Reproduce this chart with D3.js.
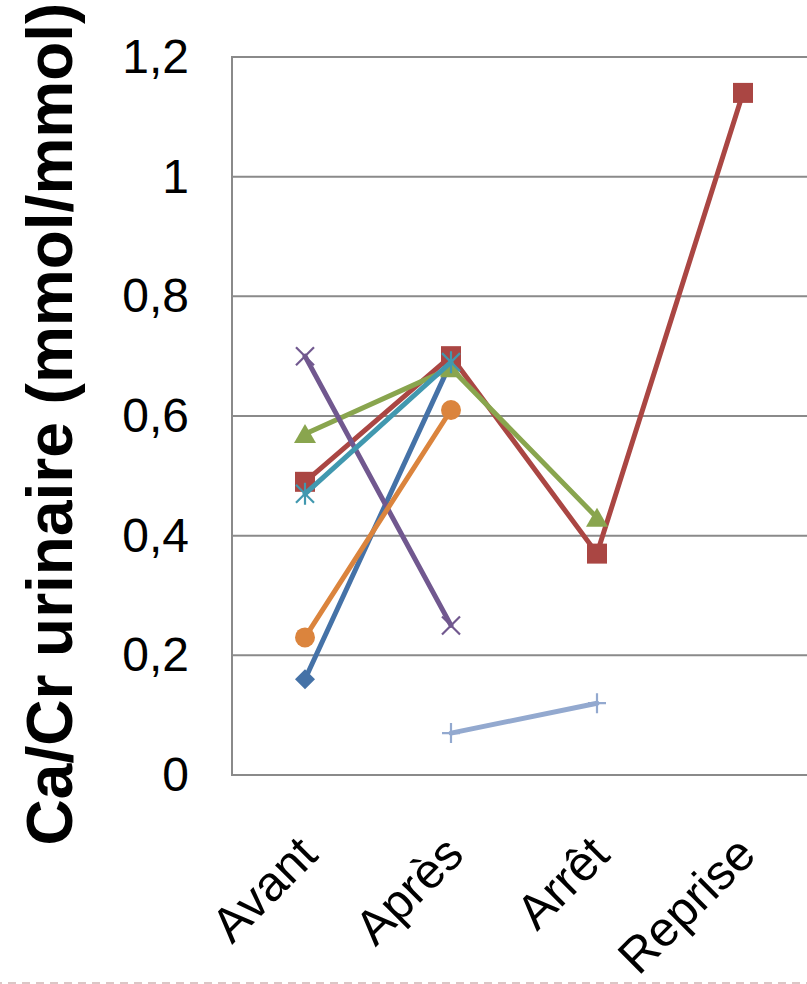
<!DOCTYPE html>
<html>
<head>
<meta charset="utf-8">
<script src="https://cdn.jsdelivr.net/npm/d3@7"></script>
<style>
  html, body { margin: 0; padding: 0; background: #fff; }
  svg { display: block; }
</style>
</head>
<body>
<svg id="chart" width="807" height="984"></svg>
<script>
// Categories along the x axis
const categories = ["Avant", "Après", "Arrêt", "Reprise"];

// Urinary Ca/Cr ratio per patient (null = no measurement)
const patient1 = [0.16, 0.69, null, null];
const patient2 = [0.49, 0.70, 0.37, 1.14];
const patient3 = [0.57, 0.68, 0.43, null];
const patient4 = [0.70, 0.25, null, null];
const patient5 = [0.47, 0.69, null, null];
const patient6 = [0.23, 0.61, null, null];
const patient7 = [null, 0.07, 0.12, null];

const yTicks = [0, 0.2, 0.4, 0.6, 0.8, 1, 1.2];
const yTitle = "Ca/Cr urinaire (mmol/mmol)";

const series = [
  { values: patient1, color: "#4572A7", marker: "diamond" },
  { values: patient2, color: "#AA4643", marker: "square" },
  { values: patient3, color: "#89A54E", marker: "triangle" },
  { values: patient4, color: "#71588F", marker: "x" },
  { values: patient5, color: "#4198AF", marker: "star" },
  { values: patient6, color: "#DB843D", marker: "circle" },
  { values: patient7, color: "#93A9CF", marker: "plus" }
];

const svg = d3.select("#chart");
const plot = { left: 232, top: 57, bottom: 775, right: 816 };

const x = d3.scaleBand().domain(categories).range([plot.left, plot.right]).padding(0);
const cx = c => x(c) + x.bandwidth() / 2;
const y = d3.scaleLinear().domain([0, 1.2]).range([plot.bottom, plot.top]);

// Horizontal gridlines
svg.append("g")
  .selectAll("line")
  .data(yTicks.filter(t => t > 0))
  .join("line")
  .attr("x1", plot.left).attr("x2", plot.right)
  .attr("y1", d => y(d)).attr("y2", d => y(d))
  .attr("stroke", "#8a8a8a").attr("stroke-width", 2);

// Axis lines
svg.append("line")
  .attr("x1", plot.left).attr("x2", plot.left)
  .attr("y1", plot.top - 1).attr("y2", plot.bottom + 1)
  .attr("stroke", "#8a8a8a").attr("stroke-width", 2);
svg.append("line")
  .attr("x1", plot.left - 1).attr("x2", plot.right)
  .attr("y1", plot.bottom).attr("y2", plot.bottom)
  .attr("stroke", "#8a8a8a").attr("stroke-width", 2);

// Y axis tick labels (comma decimal)
const fmt = d => String(+d.toFixed(1)).replace(".", ",");
const yAxis = d3.axisLeft(y).tickValues(yTicks).tickFormat(fmt).tickSize(0).tickPadding(43);
const yg = svg.append("g").attr("transform", `translate(${plot.left},0)`).call(yAxis);
yg.select(".domain").remove();
yg.selectAll("text")
  .attr("font-family", "Liberation Sans, Arial, sans-serif")
  .attr("font-size", 48)
  .attr("fill", "#000");

// X axis category labels, rotated
svg.append("g")
  .selectAll("text")
  .data(categories)
  .join("text")
  .attr("transform", d => `translate(${cx(d) + 15},${plot.bottom + 82}) rotate(-45)`)
  .attr("text-anchor", "end")
  .attr("font-family", "Liberation Sans, Arial, sans-serif")
  .attr("font-size", 49)
  .attr("fill", "#000")
  .text(d => d);

// Y axis title
svg.append("text")
  .attr("transform", `translate(72,424) rotate(-90)`)
  .attr("text-anchor", "middle")
  .attr("font-family", "Liberation Sans, Arial, sans-serif")
  .attr("font-weight", "bold")
  .attr("font-size", 64)
  .attr("fill", "#000")
  .text(yTitle);

// Marker shapes
function drawMarker(g, type, color) {
  const s = 10;
  switch (type) {
    case "diamond":
      g.append("path").attr("d", `M0,${-s}L${s},0L0,${s}L${-s},0Z`).attr("fill", color);
      break;
    case "square":
      g.append("rect").attr("x", -10).attr("y", -10).attr("width", 20).attr("height", 20).attr("fill", color);
      break;
    case "triangle":
      g.append("path").attr("d", `M0,-10L11,9L-11,9Z`).attr("fill", color);
      break;
    case "circle":
      g.append("circle").attr("r", 10).attr("fill", color);
      break;
    case "x":
      g.append("path").attr("d", `M-9,-9L9,9M9,-9L-9,9`).attr("stroke", color).attr("stroke-width", 2.2).attr("fill", "none");
      break;
    case "star":
      g.append("path").attr("d", `M-9,-9L9,9M9,-9L-9,9M0,-11L0,11`).attr("stroke", color).attr("stroke-width", 2.2).attr("fill", "none");
      break;
    case "plus":
      g.append("path").attr("d", `M-9,0L9,0M0,-10L0,10`).attr("stroke", color).attr("stroke-width", 2.2).attr("fill", "none");
      break;
  }
}

const line = d3.line()
  .defined(d => d.v !== null)
  .x(d => cx(d.c))
  .y(d => y(d.v));

series.forEach(s => {
  const pts = categories.map((c, i) => ({ c, v: s.values[i] }));
  const g = svg.append("g");
  g.append("path")
    .datum(pts)
    .attr("d", line)
    .attr("fill", "none")
    .attr("stroke", s.color)
    .attr("stroke-width", 5)
    .attr("stroke-linejoin", "round")
    .attr("stroke-linecap", "round");
  pts.filter(p => p.v !== null).forEach(p => {
    const mg = g.append("g").attr("transform", `translate(${cx(p.c)},${y(p.v)})`);
    drawMarker(mg, s.marker, s.color);
  });
});

// Dashed separator along the bottom edge
svg.append("line")
  .attr("x1", -6).attr("x2", 807)
  .attr("y1", 983).attr("y2", 983)
  .attr("stroke", "#dcc6c6").attr("stroke-width", 2)
  .attr("stroke-dasharray", "8,6");
</script>
</body>
</html>
